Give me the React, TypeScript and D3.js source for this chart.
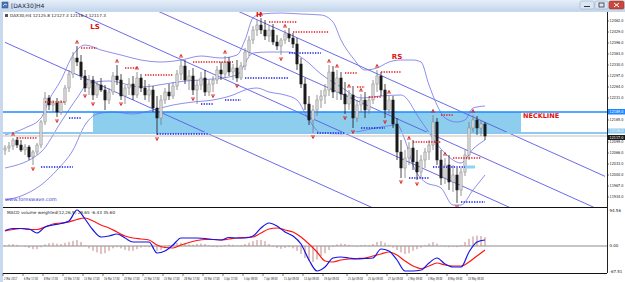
import React from "react";
import * as d3 from "d3";

const W = 625, H = 282;

// [open, high, low, close] per H4 bar
const candles: [number, number, number, number][] = [
[12075,12090,12060,12081],[12081,12099,12069,12087],[12087,12111,12075,12105],[12105,12114,12081,12090],
[12090,12105,12069,12075],[12075,12093,12060,12084],[12084,12090,12045,12054],[12054,12075,12030,12069],
[12069,12096,12060,12090],[12090,12165,12081,12159],[12159,12249,12150,12231],[12231,12240,12195,12210],
[12210,12225,12189,12216],[12216,12231,12174,12189],[12189,12225,12180,12219],[12219,12270,12210,12261],
[12261,12315,12249,12303],[12303,12369,12291,12351],[12351,12387,12327,12339],[12339,12360,12285,12297],
[12297,12315,12249,12261],[12261,12300,12240,12285],[12285,12297,12225,12240],[12240,12279,12231,12270],
[12270,12291,12249,12255],[12255,12270,12195,12225],[12225,12261,12213,12249],[12249,12309,12240,12297],
[12297,12330,12270,12285],[12285,12303,12225,12237],[12237,12270,12213,12261],[12261,12291,12240,12273],
[12273,12297,12225,12240],[12240,12309,12231,12291],[12291,12303,12249,12261],[12261,12285,12225,12240],
[12240,12273,12219,12255],[12255,12267,12189,12201],[12201,12237,12120,12171],[12171,12240,12150,12225],
[12225,12261,12213,12249],[12249,12273,12225,12237],[12237,12279,12228,12267],[12267,12315,12255,12303],
[12303,12345,12285,12327],[12327,12345,12273,12285],[12285,12315,12255,12297],[12297,12321,12240,12255],
[12255,12285,12213,12270],[12270,12309,12255,12291],[12291,12315,12237,12249],[12249,12285,12237,12273],
[12273,12297,12249,12285],[12285,12327,12273,12315],[12315,12339,12285,12303],[12303,12357,12291,12339],
[12339,12354,12297,12309],[12309,12333,12285,12321],[12321,12345,12279,12291],[12291,12339,12285,12327],
[12327,12381,12315,12369],[12369,12417,12357,12405],[12405,12447,12393,12435],[12435,12465,12417,12450],
[12450,12471,12423,12435],[12435,12465,12405,12417],[12417,12450,12399,12435],[12435,12453,12390,12399],
[12399,12420,12375,12387],[12387,12411,12360,12405],[12405,12435,12393,12423],[12423,12441,12399,12411],
[12411,12426,12381,12393],[12393,12411,12315,12333],[12333,12351,12261,12273],[12273,12291,12195,12213],
[12213,12237,12150,12165],[12165,12210,12126,12195],[12195,12240,12177,12225],[12225,12255,12201,12237],
[12237,12273,12213,12255],[12255,12330,12237,12309],[12309,12327,12231,12249],[12249,12315,12225,12291],
[12291,12309,12225,12243],[12243,12279,12183,12213],[12213,12255,12195,12240],[12240,12267,12141,12171],
[12171,12225,12159,12210],[12210,12243,12189,12225],[12225,12249,12171,12195],[12195,12237,12183,12225],
[12225,12285,12213,12273],[12273,12315,12249,12297],[12297,12309,12237,12255],[12255,12273,12171,12195],
[12195,12237,12183,12225],[12225,12237,12141,12153],[12153,12171,12045,12069],[12069,12105,11991,12021],
[12021,12075,11991,12051],[12051,12099,12030,12081],[12081,12105,12015,12039],[12039,12075,11985,12009],
[12009,12060,11991,12045],[12045,12081,12021,12069],[12069,12105,12045,12090],[12090,12180,12075,12159],
[12159,12171,12030,12045],[12045,12075,11970,11991],[11991,12051,11973,12030],[12030,12060,11955,11979],
[11979,12030,11949,12000],[12000,12021,11916,11955],[11955,12021,11937,12009],[12009,12075,11997,12060],
[12060,12159,12045,12141],[12141,12180,12129,12165],[12165,12177,12120,12141],[12141,12165,12117,12153],
[12153,12159,12105,12117],
];

// Bollinger bands [barIndex, price]
const bbUpper: [number, number][] = [[0,12120],[5,12141],[9,12171],[11,12225],[14,12285],[17,12360],[20,12390],[24,12375],[29,12360],[34,12345],[39,12339],[44,12345],[49,12357],[54,12351],[58,12360],[60,12405],[62,12471],[64,12483],[69,12486],[74,12483],[79,12480],[82,12459],[84,12405],[87,12351],[90,12315],[93,12321],[96,12339],[99,12345],[102,12345],[104,12339],[106,12270],[108,12210],[110,12171],[113,12159],[115,12165],[117,12201],[120,12207]];
const bbMiddle: [number, number][] = [[0,12021],[9,12069],[14,12159],[18,12231],[21,12276],[26,12282],[34,12264],[40,12273],[45,12282],[52,12288],[58,12300],[62,12366],[66,12369],[71,12369],[75,12345],[79,12303],[84,12264],[89,12231],[94,12237],[99,12240],[104,12162],[109,12078],[114,12036],[117,12078],[120,12105]];
const bbLower: [number, number][] = [[0,11925],[4,11937],[9,11970],[13,12015],[17,12075],[20,12150],[23,12183],[27,12189],[32,12183],[37,12195],[42,12210],[47,12219],[52,12225],[57,12240],[60,12255],[63,12261],[66,12249],[70,12240],[73,12225],[76,12165],[79,12126],[84,12123],[89,12132],[94,12144],[98,12150],[100,12105],[102,12030],[105,11979],[109,11961],[112,11910],[114,11910],[117,11955],[120,12000]];

// Regression channel lines [i1, p1, i2, p2]
const channelLines: [number, number, number, number][] = [[0,12806,150,11996],[0,12698,150,11888],[0,12584,150,11774],[0,12398,150,11588]];

// dotted resistance / support [fromIdx, toIdx, price]
const resistSegs: [number, number, number][] = [[3,8,12111],[10,15,12219],[19,23,12381],[30,33,12321],[35,42,12300],[47,57,12339],[66,73,12459],[72,81,12429],[85,88,12306],[88,90,12264],[91,94,12234],[94,99,12309],[102,109,12099],[109,112,12180],[112,119,12051]];
const supportSegs: [number, number, number][] = [[9,17,12024],[16,19,12171],[38,51,12123],[49,52,12213],[55,59,12225],[60,71,12291],[71,79,12366],[78,85,12126],[89,95,12141],[101,106,11991],[107,115,12024],[114,120,11919]];

const fractalUp = [2,18,28,33,44,55,64,70,81,83,86,89,93,96,101,107,110,117];
const fractalDown = [7,13,20,22,29,38,47,52,58,69,77,85,87,95,99,103,113];

// Neckline zone
const zoneTop = 12189, zoneBottom = 12126, zoneFrom = 22, zoneTo = 129;
const bidPrice = 12117;

// MACD (every 2nd bar)
const macdLine = [38.8,43.8,43.8,42.5,32.5,47.5,52.5,56.3,62.5,90,67.5,40,22.5,25,30,20,10,10,10,-17.5,-12.5,2.5,20,20,20,18.8,16.3,15,21.3,20,20,25,45,57.5,50,35,25,5,-35,-62.5,-52.5,-30,-27.5,-30,-32.5,-31.3,-30,-7.5,-12.5,-35,-62.5,-62.5,-60,-42.5,-30,-45,-52.5,-52.5,-15,10,15];
const signalLine = [37.5,41.3,43.8,41.3,41.3,47.5,55,57.5,60,66.3,70,62.5,52.5,45,35,25,20,17.5,15,2.5,-3.8,-5,2.5,8.8,13.8,16.3,16.3,15,17.5,20,21.3,22.5,32.5,42.5,45,40,35,22.5,5,-15,-37.5,-40,-35,-32.5,-31.3,-30,-25,-20,-15,-22.5,-37.5,-50,-56.3,-50,-42.5,-47.5,-50,-50,-40,-25,-10];
const histogram = [2,4,5,3,0,-2,-5,-8,-8,-3,4,7,8,6,5,8,10,13,15,10,2,-6,-12,-16,-20,-18,-12,-6,-3,-6,-10,-12,-12,-8,-4,-2,-3,-6,-12,-10,-5,2,5,8,8,6,4,3,5,6,5,2,-2,-3,-2,2,4,3,1,2,5,8,12,15,15,12,5,-2,-5,-7,-5,-3,-6,-12,-20,-30,-38,-40,-34,-25,-18,-10,-2,4,6,5,3,1,-2,2,3,2,5,10,12,8,3,-4,-10,-16,-20,-18,-12,-8,-4,2,6,10,6,1,-2,-3,-2,-3,2,10,18,24,26,25,22];

const priceTicks = [12462,12429,12396,12363,12330,12297,12264,12231,12198,12165,12132,12099,12066,12033,12000,11967,11934];
const macdTicks = ["94.56", "0.00", "-67.51"];
const timeIdx = [0,5,10,15,20,25,30,35,40,45,50,55,60,65,70,75,80,86,91,96,101,106,111,116];
const timeLabels = ["2 Mar 2017","6 Mar 17:00","8 Mar 17:00","10 Mar 17:00","14 Mar 17:00","16 Mar 17:00","20 Mar 17:00","22 Mar 17:00","24 Mar 17:00","28 Mar 17:00","30 Mar 17:00","3 Apr 17:00","5 Apr 09:00","7 Apr 09:00","11 Apr 09:00","13 Apr 09:00","19 Apr 09:00","21 Apr 09:00","25 Apr 09:00","27 Apr 09:00","2 May 09:00","4 May 09:00","8 May 09:00","10 May 09:00"];

const FONT = "'DejaVu Sans', 'Liberation Sans', sans-serif";

export default function App() {
  const left = 3, right = 607, mainTop = 12, mainBottom = 207, macdTop = 208, macdBottom = 273;
  const x = d3.scaleLinear().domain([0, 150]).range([5, 605]);
  const y = d3.scaleLinear().domain([11904, 12489]).range([mainBottom, mainTop]);
  const ym = d3.scaleLinear().domain([-67.5, 95]).range([macdBottom, macdTop]);

  const bandLine = d3.line<[number, number]>().x(d => x(d[0])).y(d => y(d[1])).curve(d3.curveMonotoneX);
  const macdPath = d3.line<number>().x((_, k) => x(k * 2)).y(d => ym(d)).curve(d3.curveMonotoneX);

  const bw = 2.3;
  const boxPrices = [zoneTop, zoneBottom, bidPrice];
  const visibleTicks = priceTicks.filter(p => boxPrices.every(b => Math.abs(y(p) - y(b)) > 5.5));
  const axW = W - right - 3;

  return (
    <svg width={W} height={H} style={{ display: "block" }} fontFamily={FONT}>
      <style>{`body{margin:0}`}</style>
      <defs>
        <linearGradient id="tb" x1="0" y1="0" x2="0" y2="1">
          <stop offset="0" stopColor="#e6eff9" />
          <stop offset="1" stopColor="#c3d6ec" />
        </linearGradient>
        <clipPath id="cm"><rect x={left} y={mainTop} width={right - left} height={mainBottom - mainTop} /></clipPath>
        <clipPath id="cd"><rect x={left} y={macdTop} width={right - left} height={macdBottom - macdTop} /></clipPath>
      </defs>
      {/* window frame */}
      <rect x={0} y={0} width={W} height={H} fill="#c8d9ee" />
      <rect x={0} y={0} width={W} height={11} fill="url(#tb)" />
      <rect x={2} y={2} width={6} height={6} fill="#4a78b8" stroke="#2a4a80" strokeWidth={0.5} />
      <path d="M3,6 L5,4 L7,5" stroke="#fff" strokeWidth={0.7} fill="none" />
      <text x={11} y={8} fontSize={6} fill="#1b2a44">[DAX30]H4</text>
      <rect x={580} y={1} width={14} height={8} rx={1.5} fill="#dbe6f3" stroke="#8aa2c2" strokeWidth={0.5} />
      <rect x={584} y={6} width={6} height={1} fill="#333" />
      <rect x={595} y={1} width={13} height={8} rx={1.5} fill="#dbe6f3" stroke="#8aa2c2" strokeWidth={0.5} />
      <rect x={599} y={3} width={5} height={4} fill="none" stroke="#333" strokeWidth={0.8} />
      <rect x={609} y={1} width={15} height={8} rx={1.5} fill="#c9483b" stroke="#8a2a20" strokeWidth={0.5} />
      <path d="M614,3 L619,7 M619,3 L614,7" stroke="#fff" strokeWidth={1} />

      {/* chart area */}
      <rect x={left} y={mainTop} width={W - left} height={H - mainTop} fill="#ffffff" />

      {/* main pane */}
      <g clipPath="url(#cm)">
        <rect x={x(zoneFrom)} y={y(zoneTop)} width={x(zoneTo) - x(zoneFrom)} height={y(zoneBottom) - y(zoneTop)} fill="#8dcdee" />
        {channelLines.map((l, k) => (
          <line key={k} x1={x(l[0])} y1={y(l[1])} x2={x(l[2])} y2={y(l[3])} stroke="#5a5ae8" strokeWidth={0.9} />
        ))}
        <path d={bandLine(bbUpper) || ""} fill="none" stroke="#7272e6" strokeWidth={0.8} />
        <path d={bandLine(bbMiddle) || ""} fill="none" stroke="#7272e6" strokeWidth={0.8} />
        <path d={bandLine(bbLower) || ""} fill="none" stroke="#7272e6" strokeWidth={0.8} />
        <line x1={left} x2={right} y1={y(zoneTop)} y2={y(zoneTop)} stroke="#1e88ff" strokeWidth={1.4} />
        <line x1={left} x2={right} y1={y(zoneBottom)} y2={y(zoneBottom)} stroke="#8cc8f0" strokeWidth={2} />
        <line x1={left} x2={right} y1={y(bidPrice)} y2={y(bidPrice)} stroke="#b0b0b0" strokeWidth={0.8} />
        {candles.map((c, i) => {
          const [o, h, l, cl] = c;
          const bull = cl >= o;
          const top = y(Math.max(o, cl)), bot = y(Math.min(o, cl));
          return (
            <g key={i}>
              <line x1={x(i)} x2={x(i)} y1={y(h)} y2={y(l)} stroke={bull ? "#7a7a7a" : "#1a1a1a"} strokeWidth={0.8} />
              <rect x={x(i) - bw / 2} y={top} width={bw} height={Math.max(0.8, bot - top)} fill={bull ? "#d6d6d6" : "#1a1a1a"} stroke={bull ? "#8a8a8a" : "#1a1a1a"} strokeWidth={0.5} />
            </g>
          );
        })}
        {resistSegs.map((s, k) => (
          <line key={k} x1={x(s[0])} x2={x(s[1])} y1={y(s[2])} y2={y(s[2])} stroke="#e8141e" strokeWidth={1.4} strokeDasharray="1.3,1.3" />
        ))}
        {supportSegs.map((s, k) => (
          <line key={k} x1={x(s[0])} x2={x(s[1])} y1={y(s[2])} y2={y(s[2])} stroke="#1a1ae6" strokeWidth={1.4} strokeDasharray="1.3,1.3" />
        ))}
        <rect x={x(115)} y={y(12024) - 1.5} width={x(117.5) - x(115)} height={3} fill="#8fd3f4" />
        {fractalUp.map(i => {
          const cx = x(i), cy = y(candles[i][1]) - 4;
          return <path key={i} d={`M${cx - 1.6},${cy + 1.6} L${cx},${cy - 1.6} L${cx + 1.6},${cy + 1.6} M${cx},${cy - 1} L${cx},${cy + 2}`} stroke="#e01818" strokeWidth={0.8} fill="none" />;
        })}
        {fractalDown.map(i => {
          const cx = x(i), cy = y(candles[i][2]) + 4;
          return <path key={i} d={`M${cx - 1.6},${cy - 1.6} L${cx},${cy + 1.6} L${cx + 1.6},${cy - 1.6} M${cx},${cy + 1} L${cx},${cy - 2}`} stroke="#e01818" strokeWidth={0.8} fill="none" />;
        })}
        <text x={x(22.5)} y={y(12438)} fontSize={7} fontWeight="bold" fill="#e01010" textAnchor="middle">LS</text>
        <text x={x(63.5)} y={y(12474)} fontSize={7} fontWeight="bold" fill="#e01010" textAnchor="middle">H</text>
        <text x={x(98)} y={y(12348)} fontSize={7} fontWeight="bold" fill="#e01010" textAnchor="middle">RS</text>
        <text x={x(129.5)} y={y(12170)} fontSize={6.5} fontWeight="bold" fill="#e01010">NECKLINE</text>
        <text x={5} y={201} fontSize={5} fill="#3a3ad0">www.forexwave.com</text>
      </g>
      <rect x={5} y={14} width={3} height={3} fill="#555" />
      <text x={10} y={17} fontSize={4.2} fill="#222">DAX30,H4  12125.8 12127.3 12116.3 12117.3</text>

      {/* separator */}
      <line x1={left} x2={right} y1={207.5} y2={207.5} stroke="#111" strokeWidth={1.2} />

      {/* MACD pane */}
      <g clipPath="url(#cd)">
        <line x1={left} x2={right} y1={ym(0)} y2={ym(0)} stroke="#6f6f6f" strokeWidth={0.8} />
        {histogram.map((v, i) => (
          <line key={i} x1={x(i)} x2={x(i)} y1={ym(0)} y2={ym(v)} stroke="#c08686" strokeWidth={1} />
        ))}
        <path d={macdPath(signalLine) || ""} fill="none" stroke="#ff1414" strokeWidth={1.2} />
        <path d={macdPath(macdLine) || ""} fill="none" stroke="#1414e6" strokeWidth={1.2} />
      </g>
      <text x={7} y={214} fontSize={4.2} fill="#222">MACD volume weighted(12,26,9) 29.65 -6.43 35.60</text>
      <line x1={left} x2={right} y1={macdBottom + 0.5} y2={macdBottom + 0.5} stroke="#111" strokeWidth={1} />

      {/* right axis */}
      <line x1={right + 0.5} x2={right + 0.5} y1={mainTop} y2={macdBottom} stroke="#222" strokeWidth={1} />
      {visibleTicks.map(p => (
        <g key={p}>
          <line x1={right} x2={right + 2} y1={y(p)} y2={y(p)} stroke="#222" strokeWidth={0.6} />
          <text x={right + 2.5} y={y(p) + 1.4} fontSize={4} textLength={axW - 1} lengthAdjust="spacingAndGlyphs" fill="#222">{p.toFixed(1)}</text>
        </g>
      ))}
      <rect x={right + 1} y={y(zoneTop) - 3} width={W - right - 1} height={5.5} fill="#1e88ff" />
      <text x={right + 2.5} y={y(zoneTop) + 1.4} fontSize={4} textLength={axW - 1} lengthAdjust="spacingAndGlyphs" fill="#fff">{zoneTop.toFixed(1)}</text>
      <rect x={right + 1} y={y(zoneBottom) - 4.5} width={W - right - 1} height={5} fill="#8cc8f0" />
      <text x={right + 2.5} y={y(zoneBottom) - 0.6} fontSize={4} textLength={axW - 1} lengthAdjust="spacingAndGlyphs" fill="#fff">{zoneBottom.toFixed(1)}</text>
      <rect x={right + 1} y={y(bidPrice) - 1} width={W - right - 1} height={5} fill="#1a1a1a" />
      <text x={right + 2.5} y={y(bidPrice) + 2.9} fontSize={4} textLength={axW - 1} lengthAdjust="spacingAndGlyphs" fill="#fff">{bidPrice.toFixed(1)}</text>
      <text x={right + 2.5} y={ym(95) + 3.5} fontSize={4} fill="#222">{macdTicks[0]}</text>
      <text x={right + 2.5} y={ym(0) + 1.4} fontSize={4} fill="#222">{macdTicks[1]}</text>
      <text x={right + 2.5} y={macdBottom - 0.5} fontSize={4} fill="#222">{macdTicks[2]}</text>

      {/* time axis */}
      {timeIdx.map((t, k) => (
        <g key={k}>
          <line x1={x(t) - 2} x2={x(t) - 2} y1={macdBottom} y2={macdBottom + 3} stroke="#222" strokeWidth={0.6} />
          <g transform={`translate(${x(t) - 1},279.5) scale(0.55,1)`}>
            <text x={0} y={0} fontSize={4.2} fill="#222">{timeLabels[k]}</text>
          </g>
        </g>
      ))}
    </svg>
  );
}
